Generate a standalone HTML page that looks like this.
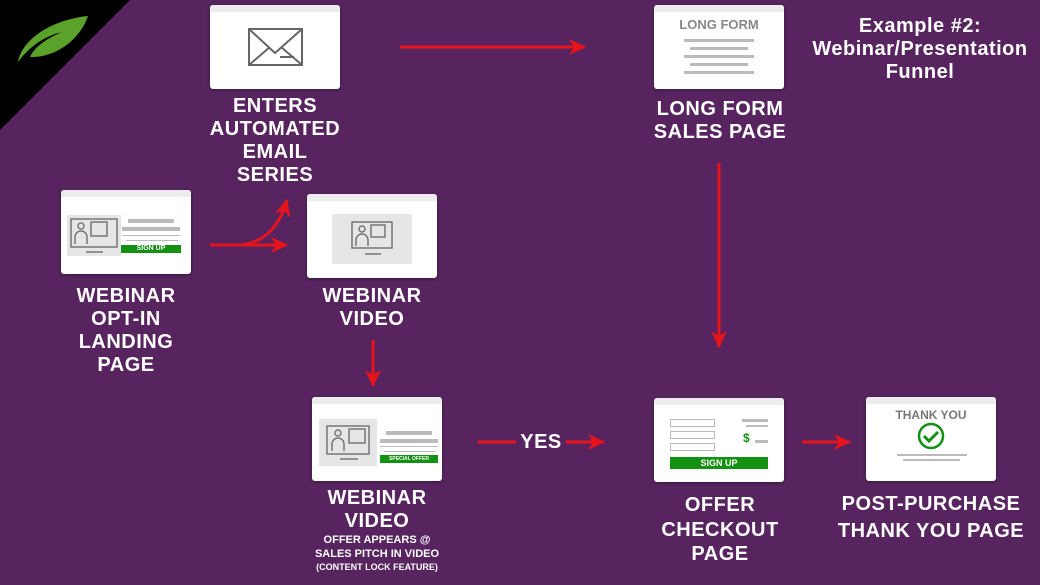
<!DOCTYPE html>
<html><head><style>
body{margin:0;width:1040px;height:585px;background:#57245f;position:relative;overflow:hidden;font-family:"Liberation Sans",sans-serif}
.c{position:absolute;width:130px;height:84px;background:#fff;border-radius:3px;box-shadow:0 1px 3px rgba(0,0,0,.4);overflow:hidden}
.c:before{content:"";position:absolute;left:0;top:0;right:0;height:7px;background:#ececec}
.t{position:absolute;color:#fff;font-weight:bold;font-size:20px;line-height:23px;text-align:center;letter-spacing:.5px}
.s{font-size:11px;line-height:14px;display:block;letter-spacing:0}
.g{position:absolute;background:#bbb}
.btn{position:absolute;background:#129112;color:#fff;font-weight:bold;text-align:center}
svg{position:absolute;left:0;top:0}
</style></head><body>
<svg width="1040" height="585">
<defs><marker id="a" markerWidth="10" markerHeight="10" refX="8" refY="5" orient="auto" markerUnits="userSpaceOnUse"><path d="M0,0 L10,5 L0,10 L3,5Z" fill="#e8141c"/></marker>
<marker id="b" markerWidth="18" markerHeight="18" refX="16" refY="9" orient="auto" markerUnits="userSpaceOnUse"><path d="M0,1 L17,9 L0,17 L5,9Z" fill="#e8141c"/></marker></defs>
<polygon points="0,0 130,0 0,130" fill="#000"/>
<path d="M18,62 C22,40 50,20 88,16 C80,40 55,58 30,57 C35,46 48,38 62,32 C45,36 30,46 18,62Z" fill="#5aa22a"/>
<g stroke="#e8141c" stroke-width="3" fill="none">
<line x1="400" y1="47" x2="585" y2="47" marker-end="url(#b)"/>
<line x1="719" y1="163" x2="719" y2="347" marker-end="url(#b)"/>
<line x1="373" y1="340" x2="373" y2="386" marker-end="url(#b)"/>
<line x1="210" y1="245" x2="287" y2="245" marker-end="url(#b)"/>
<path d="M240,245 C265,243 280,225 287,200" marker-end="url(#b)"/>
<line x1="478" y1="442" x2="516" y2="442"/>
<line x1="566" y1="442" x2="604" y2="442" marker-end="url(#b)"/>
<line x1="802" y1="442" x2="850" y2="442" marker-end="url(#b)"/>
</g>
</svg>
<!-- email -->
<div class="c" style="left:210px;top:5px;width:130px">
<svg width="130" height="84"><rect x="39" y="24" width="53" height="36" fill="none" stroke="#666" stroke-width="2"/><path d="M39,24 L65,48 L92,24 M39,60 L60,42 M92,60 L71,42" fill="none" stroke="#666" stroke-width="2"/><line x1="70" y1="52" x2="84" y2="52" stroke="#666" stroke-width="2"/></svg></div>
<div class="t" style="left:200px;top:95px;width:150px">ENTERS<br>AUTOMATED<br>EMAIL<br>SERIES</div>
<!-- long form -->
<div class="c" style="left:654px;top:5px">
<div style="position:absolute;left:0;right:0;top:12px;text-align:center;color:#888;font-weight:bold;font-size:13px">LONG FORM</div>
<div class="g" style="left:30px;top:34px;width:70px;height:3px"></div>
<div class="g" style="left:36px;top:42px;width:58px;height:3px"></div>
<div class="g" style="left:30px;top:50px;width:70px;height:3px"></div>
<div class="g" style="left:36px;top:58px;width:58px;height:3px"></div>
<div class="g" style="left:30px;top:66px;width:70px;height:3px"></div></div>
<div class="t" style="left:640px;top:98px;width:160px">LONG FORM<br>SALES PAGE</div>
<div class="t" style="left:800px;top:15px;width:240px;font-size:20px;line-height:23px">Example #2:<br>Webinar/Presentation<br>Funnel</div>
<!-- opt-in -->
<div class="c" style="left:61px;top:190px">
<div style="position:absolute;left:6px;top:25px;width:54px;height:41px;background:#e6e6e6"></div>
<svg width="130" height="84"><g fill="none" stroke="#777" stroke-width="1.5"><rect x="10" y="29" width="46" height="28"/><circle cx="20" cy="36" r="3"/><path d="M14,54 v-7 a6,6 0 0 1 12,0 v7"/><rect x="30" y="32" width="16" height="14"/><line x1="25" y1="62" x2="42" y2="62"/></g></svg>
<div class="g" style="left:67px;top:29px;width:46px;height:4px"></div>
<div class="g" style="left:61px;top:37px;width:58px;height:4px"></div>
<div class="g" style="left:61px;top:45px;width:58px;height:1px"></div>
<div class="g" style="left:65px;top:50px;width:52px;height:1px"></div>
<div class="btn" style="left:60px;top:55px;width:60px;height:8px;font-size:7px;line-height:8px">SIGN UP</div></div>
<div class="t" style="left:46px;top:285px;width:160px">WEBINAR<br>OPT-IN<br>LANDING<br>PAGE</div>
<!-- webinar video -->
<div class="c" style="left:307px;top:194px">
<div style="position:absolute;left:25px;top:20px;width:80px;height:50px;background:#e6e6e6"></div>
<svg width="130" height="84"><g fill="none" stroke="#777" stroke-width="1.5"><rect x="45" y="28" width="40" height="26"/><circle cx="55" cy="35" r="3"/><path d="M49,52 v-6 a6,6 0 0 1 12,0 v6"/><rect x="64" y="31" width="14" height="12"/><line x1="58" y1="60" x2="74" y2="60"/></g></svg></div>
<div class="t" style="left:292px;top:285px;width:160px">WEBINAR<br>VIDEO</div>
<!-- webinar video 2 -->
<div class="c" style="left:312px;top:397px">
<div style="position:absolute;left:7px;top:22px;width:58px;height:47px;background:#e6e6e6"></div>
<svg width="130" height="84"><g fill="none" stroke="#777" stroke-width="1.5"><rect x="15" y="29" width="42" height="28"/><circle cx="26" cy="36" r="3"/><path d="M20,54 v-7 a6,6 0 0 1 12,0 v7"/><rect x="37" y="32" width="16" height="14"/><line x1="28" y1="62" x2="46" y2="62"/></g></svg>
<div class="g" style="left:74px;top:34px;width:46px;height:4px"></div>
<div class="g" style="left:68px;top:42px;width:58px;height:4px"></div>
<div class="g" style="left:68px;top:49px;width:58px;height:1px"></div>
<div class="g" style="left:72px;top:54px;width:52px;height:1px"></div>
<div class="btn" style="left:68px;top:58px;width:58px;height:8px;font-size:5px;line-height:8px">SPECIAL OFFER</div></div>
<div class="t" style="left:292px;top:487px;width:170px">WEBINAR<br>VIDEO<span class="s">OFFER APPEARS @<br>SALES PITCH IN VIDEO</span><span class="s" style="font-size:9px;line-height:13px">(CONTENT LOCK FEATURE)</span></div>
<div class="t" style="left:516px;top:431px;width:50px">YES</div>
<!-- checkout -->
<div class="c" style="left:654px;top:398px">
<div style="position:absolute;left:16px;top:21px;width:43px;height:6px;border:1px solid #bbb"></div>
<div style="position:absolute;left:16px;top:33px;width:43px;height:6px;border:1px solid #bbb"></div>
<div style="position:absolute;left:16px;top:45px;width:43px;height:6px;border:1px solid #bbb"></div>
<div class="g" style="left:88px;top:21px;width:26px;height:3px"></div>
<div class="g" style="left:92px;top:27px;width:22px;height:2px"></div>
<div style="position:absolute;left:89px;top:33px;color:#129112;font-weight:bold;font-size:12px">$</div>
<div class="g" style="left:101px;top:42px;width:13px;height:3px"></div>
<div class="btn" style="left:16px;top:59px;width:98px;height:12px;font-size:9px;line-height:12px">SIGN UP</div></div>
<div class="t" style="left:640px;top:493px;width:160px;line-height:24.5px">OFFER<br>CHECKOUT<br>PAGE</div>
<!-- thank you -->
<div class="c" style="left:866px;top:397px">
<div style="position:absolute;left:0;right:0;top:11px;text-align:center;color:#777;font-weight:bold;font-size:12px">THANK YOU</div>
<svg width="130" height="84"><circle cx="65" cy="39" r="12" fill="none" stroke="#129112" stroke-width="2.5"/><path d="M58,39 l5,5 l9,-9" fill="none" stroke="#129112" stroke-width="3"/></svg>
<div class="g" style="left:31px;top:57px;width:70px;height:2px"></div>
<div class="g" style="left:37px;top:62px;width:57px;height:2px"></div></div>
<div class="t" style="left:830px;top:491px;width:202px;line-height:27px">POST-PURCHASE<br>THANK YOU PAGE</div>
</body></html>
